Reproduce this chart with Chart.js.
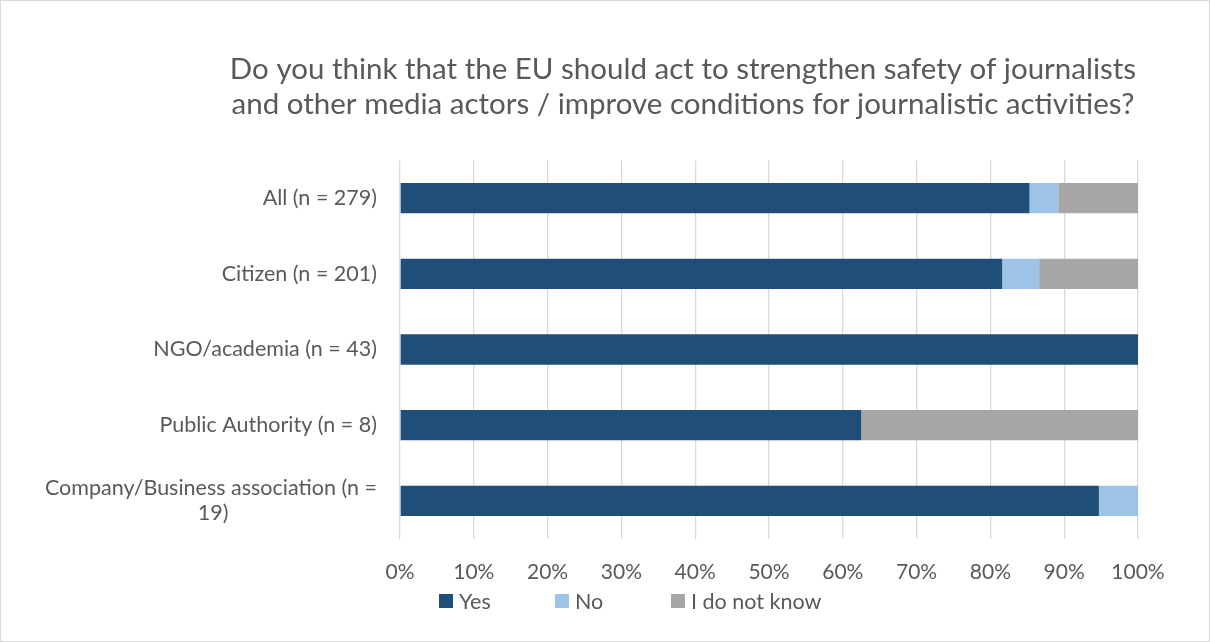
<!DOCTYPE html>
<html>
<head>
<meta charset="utf-8">
<script src="https://cdn.jsdelivr.net/npm/chart.js@4.4.1/dist/chart.umd.min.js"></script>
<style>
    html, body { margin: 0; padding: 0; background: #fff; }
    #marco { width: 1208px; height: 640px; border: 1px solid #d9d9d9; }
</style>
</head>
<body>
<div id="marco"><canvas id="myChart" width="1208" height="640"></canvas></div>
<script>
var FUENTE = 'Lato, "Open Sans", sans-serif';
var GRIS_TEXTO = '#595959';

var categorias = [
    'All (n = 279)',
    'Citizen (n = 201)',
    'NGO/academia (n = 43)',
    'Public Authority (n = 8)',
    ['Company/Business association (n =', '19)']
];
var si = [85.3, 81.6, 100, 62.5, 94.7];
var no = [3.9, 5.0, 0, 0, 5.3];
var no_sabe = [10.8, 13.4, 0, 37.5, 0];
var ticks_x = [0, 10, 20, 30, 40, 50, 60, 70, 80, 90, 100];
var titulo = [
    'Do you think that the EU should act to strengthen safety of journalists',
    'and other media actors / improve conditions for journalistic activities?'
];

// centra las lineas cortas de una etiqueta partida, como hace Excel
var medir = document.createElement('canvas').getContext('2d');
var centrar_lineas = function (etiqueta, size) {
    if (!Array.isArray(etiqueta)) return etiqueta;
    medir.font = size + 'px ' + FUENTE;
    var ancho = Math.max.apply(null, etiqueta.map(l => medir.measureText(l).width));
    var esp = medir.measureText(' ').width;
    return etiqueta.map(function (l) {
        var falta = (ancho - medir.measureText(l).width) / 2;
        return l + ' '.repeat(Math.round(falta / esp));
    });
}

// leyenda dibujada a mano para separar los items igual que Excel
var leyenda = {
    id: 'leyenda',
    afterLayout: function (chart) {
        // el eje y se deja estrecho para centrar el titulo, pero sus etiquetas no se recortan
        chart.scales.y.left = 0;
    },
    afterDraw: function (chart) {
        var ctx = chart.ctx;
        var area = chart.chartArea;
        ctx.save();
        ctx.font = '21.5px ' + FUENTE;
        ctx.textBaseline = 'middle';
        ctx.textAlign = 'left';
        chart.data.datasets.forEach(function (ds, i) {
            var x = area.left + 39 + i * 116;
            var y = 600;
            ctx.fillStyle = ds.backgroundColor;
            ctx.fillRect(x, y - 7, 14, 14);
            ctx.fillStyle = GRIS_TEXTO;
            ctx.fillText(ds.label, x + 20, y + 1);
        });
        ctx.restore();
    }
};

var ctx = document.getElementById('myChart');
var myChart = new Chart(ctx, {
    type: 'bar',
    data: {
        labels: categorias,
        datasets: [
            { label: 'Yes', data: si, backgroundColor: '#1f4e79' },
            { label: 'No', data: no, backgroundColor: '#9dc3e6' },
            { label: 'I do not know', data: no_sabe, backgroundColor: '#a6a6a6' }
        ]
    },
    plugins: [leyenda],
    options: {
        indexAxis: 'y',
        responsive: false,
        animation: false,
        categoryPercentage: 0.4,
        barPercentage: 1,
        layout: {
            padding: { left: 227, right: 71, top: 0, bottom: 35 }
        },
        scales: {
            x: {
                stacked: true,
                min: 0,
                max: 100,
                afterBuildTicks: function (scale) {
                    scale.ticks = ticks_x.map(v => ({ value: v }));
                },
                grid: { color: '#d9d9d9', lineWidth: 1.3, drawTicks: false },
                border: { display: false },
                ticks: {
                    padding: 21,
                    color: GRIS_TEXTO,
                    font: { family: FUENTE, size: 21, lineHeight: 1.2 },
                    callback: function (v) { return v + '%'; }
                }
            },
            y: {
                stacked: true,
                afterFit: function (scale) { scale.width = 172; },
                grid: { display: false, drawTicks: false },
                border: { display: false },
                ticks: {
                    padding: 23,
                    color: GRIS_TEXTO,
                    font: { family: FUENTE, size: 21.5, lineHeight: 1.16 },
                    callback: function (v) { return centrar_lineas(this.getLabelForValue(v), 21.5); }
                }
            }
        },
        plugins: {
            legend: { display: false },
            tooltip: { enabled: false },
            title: {
                display: true,
                text: titulo,
                color: GRIS_TEXTO,
                font: { family: FUENTE, size: 29.5, weight: 'normal', lineHeight: 1.19 },
                padding: { top: 51, bottom: 38 }
            }
        }
    }
});
</script>
</body>
</html>
